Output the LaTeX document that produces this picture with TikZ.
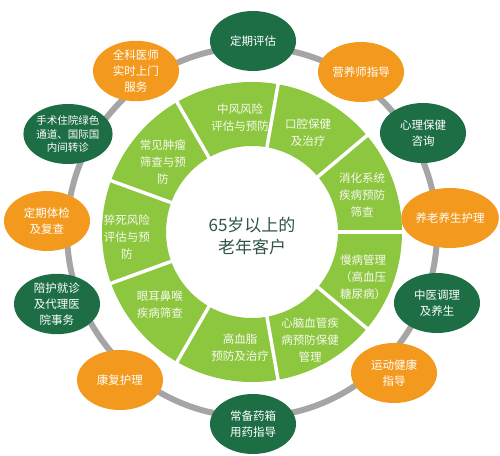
\documentclass[tikz,border=0pt]{standalone}
\usepackage{fontspec}
\setmainfont{Noto Sans CJK SC}
\usetikzlibrary{shapes.geometric}

\definecolor{ringgreen}{HTML}{8DC63F}
\definecolor{darkleaf}{HTML}{1D6E45}
\definecolor{careorange}{HTML}{F39A1E}
\definecolor{linkgray}{HTML}{A5A5A5}
\definecolor{centertext}{HTML}{2F5448}

\tikzset{
  greenball/.style={ellipse, fill=darkleaf, text=white, minimum width=86pt,
    minimum height=60pt, inner sep=0pt, align=center,
    font=\fontsize{11.5}{16}\selectfont},
  orangeball/.style={greenball, fill=careorange},
  segtext/.style={text=white!92!ringgreen, align=center,
    font=\fontsize{11.5}{17}\selectfont},
}

\begin{document}
\begin{tikzpicture}[x=1pt,y=1pt]
    \useasboundingbox (-252,-223) rectangle (248,232);
    \coordinate (C) at (0,0);

    % grey ring behind the services
    \draw[linkgray, line width=6pt] (C) circle (185pt);

    % green ring, nine parts
    \fill[ringgreen, even odd rule] (C) circle (150pt) (C) circle (86pt);
    \foreach \a in {80,40,...,-240}
        \draw[white, line width=3.5pt] (\a:85) -- (\a:151);

    \node[text=centertext, font=\fontsize{17}{22}\selectfont, align=center] (title) at (0,-4) {65岁以上的\\老年客户};

    \node[segtext] (s1) at (-12,114) {中风风险\\评估与预防};
    \node[segtext] (s2) at (56,99) {口腔保健\\及治疗};
    \node[segtext] (s3) at (110,37) {消化系统\\疾病预防\\筛查};
    \node[segtext] (s4) at (111,-45) {慢病管理\\（高血压\\糖尿病）};
    \node[segtext] (s5) at (58,-108) {心脑血管疾\\病预防保健\\管理};
    \node[segtext] (s6) at (-12,-116) {高血脂\\预防及治疗};
    \node[segtext] (s7) at (-92,-73) {眼耳鼻喉\\疾病筛查};
    \node[segtext] (s8) at (-125,-5) {猝死风险\\评估与预\\防};
    \node[segtext] (s9) at (-89,70) {常见肿瘤\\筛查与预\\防};

    % outer services, clockwise from the top
    \node[greenball] (o1) at (1,191) {定期评估};
    \node[orangeball] (o2) at (109,160) {营养师指导};
    \node[greenball] (o3) at (171,99) {心理保健\\咨询};
    \node[orangeball] (o4) at (198,14) {养老养生护理};
    \node[greenball] (o5) at (185,-71) {中医调理\\及养生};
    \node[orangeball] (o6) at (142,-141) {运动健康\\指导};
    \node[greenball] (o7) at (1,-192) {常备药箱\\用药指导};
    \node[orangeball] (o8) at (-132,-148) {康复护理};
    \node[greenball] (o9) at (-195,-72) {陪护就诊\\及代理医\\院事务};
    \node[orangeball] (o10) at (-205,11) {定期体检\\及复查};
    \node[greenball, font=\fontsize{10.5}{13.5}\selectfont] (o11) at (-184,98) {手术住院绿色\\通道、国际国\\内间转诊};
    \node[orangeball] (o12) at (-116,161) {全科医师\\实时上门\\服务};

\end{tikzpicture}
\end{document}
